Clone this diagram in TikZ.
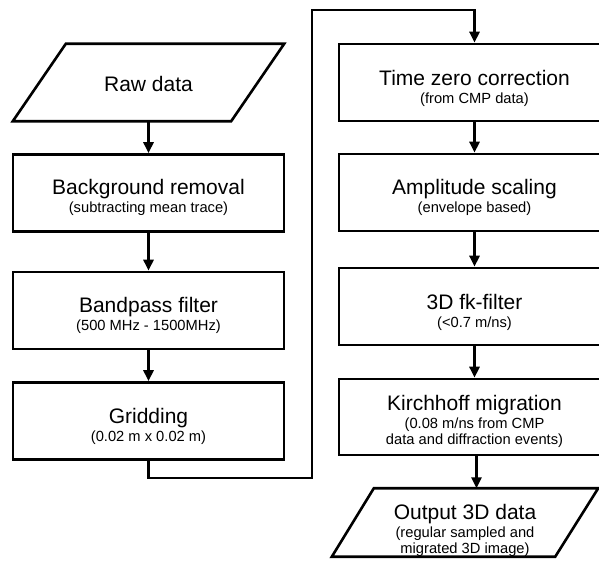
\documentclass[tikz,border=0pt]{standalone}
\usepackage{fontspec}
\setmainfont{Liberation Sans}
\usetikzlibrary{arrows.meta}
\newcommand{\ttl}[2][19]{{\fontsize{21}{22}\selectfont\rule{0pt}{#1pt}#2}}
\tikzset{
  box/.style={draw=black, line width=2.6pt, minimum width=271pt, minimum height=77pt, align=center, inner sep=0pt, font=\fontsize{14.7}{16}\selectfont},
  iobox/.style={minimum width=#1, minimum height=77pt, align=center, inner sep=0pt, font=\fontsize{14.7}{16}\selectfont},
  lineb/.style={draw=black, line width=2.6pt, line join=miter},
  arr/.style={lineb, -{Triangle[length=11pt,width=10pt]}}
}
\begin{document}
\begin{tikzpicture}[x=1pt,y=-1pt]
\useasboundingbox (0,0) rectangle (599,567);
\clip (0,0) rectangle (599,567);
\fill[white] (0,0) rectangle (599,567);
% left column
\node[iobox=271pt] (raw) at (148.5,82.5) {\ttl{Raw data}};
\draw[lineb] (raw.south west) -- ([xshift=-53pt]raw.south east) -- (raw.north east) -- ([xshift=53pt]raw.north west) -- cycle;
\node[box] (bg) at (148.5,193) {\ttl[25]{Background removal}\\[2pt](subtracting mean trace)};
\node[box] (bp) at (148.5,310.5) {\ttl[25]{Bandpass filter}\\[2pt](500 MHz - 1500MHz)};
\node[box] (grid) at (148.5,421) {\ttl[26]{Gridding}\\[2pt](0.02 m x 0.02 m)};
% right column
\node[box] (tz) at (474.5,82.5) {\ttl[27]{Time zero correction}\\[2pt](from CMP data)};
\node[box] (amp) at (474.5,192.5) {\ttl[25]{Amplitude scaling}\\[2pt](envelope based)};
\node[box] (fk) at (474.5,306.5) {\ttl[28]{3D fk-filter}\\[2pt](<0.7 m/ns)};
\node[box,minimum height=76pt] (kirch) at (474.5,417) {\ttl[24]{Kirchhoff migration}\\[2pt](0.08 m/ns from CMP\\data and diffraction events)};
\node[iobox=266pt,minimum height=67pt] (out) at (465,522.5) {\ttl[31]{Output 3D data}\\[2pt](regular sampled and\\migrated 3D image)};
\draw[lineb] (out.south west) -- ([xshift=-43pt]out.south east) -- (out.north east) -- ([xshift=42pt]out.north west) -- cycle;
% connectors
\coordinate (c1) at (312,478);
\coordinate (c2) at (312,10);
\draw[arr] (raw.south) -- (bg.north);
\draw[arr] (bg.south) -- (bp.north);
\draw[arr] (bp.south) -- (grid.north);
\draw[arr] (grid.south) |- (c1) -- (c2) -| (tz.north);
\draw[arr] (tz.south) -- (amp.north);
\draw[arr] (amp.south) -- (fk.north);
\draw[arr] (fk.south) -- (kirch.north);
\draw[arr] ([xshift=2pt]kirch.south) -- ([xshift=2pt]kirch.south |- out.north);
\end{tikzpicture}
\end{document}
